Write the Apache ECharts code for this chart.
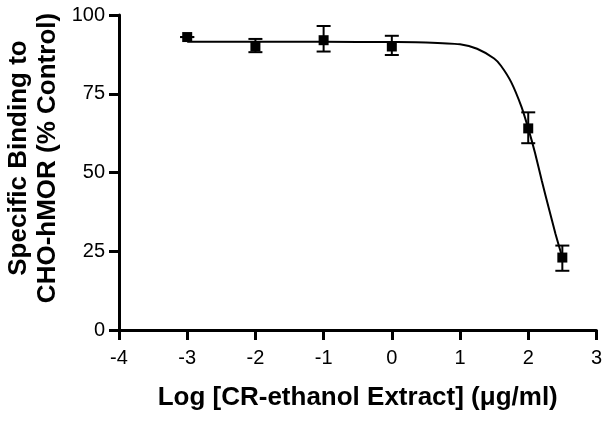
<!DOCTYPE html>
<html>
<head>
<meta charset="utf-8">
<script src="https://cdn.jsdelivr.net/npm/echarts@6/dist/echarts.min.js"></script>
<style>
  html, body { margin: 0; padding: 0; background: #fff; }
  #main { width: 605px; height: 421px; }
</style>
</head>
<body>
<div id="main"></div>
<script>
var logConc = [-3, -2, -1, 0, 2, 2.5];
var binding = [93, 90, 92, 90, 64, 23];
var errLow = [93, 88.2, 88.4, 87.3, 59.3, 18.8];
var errHigh = [93, 92.4, 96.5, 93.4, 69.1, 26.8];

// fitted curve
var curveX = [-3, -2, -1, 0, 0.5, 1, 1.25, 1.5, 1.6, 1.75, 1.9, 2, 2.1, 2.2, 2.3, 2.4, 2.5];
var curveY = [91.5, 91.5, 91.5, 91.4, 91.3, 90.7, 89.3, 86.2, 83.9, 78.7, 70.9, 64, 56.2, 47.3, 38.8, 30.5, 23];

var xTicks = [-4, 3, 1];
var yTicks = [0, 100, 25];

var fontName = '"Liberation Sans", Arial, sans-serif';
var myChart = echarts.init(document.getElementById('main'));

var points = logConc.map(function (x, i) { return [x, binding[i]]; });
var bars = logConc.map(function (x, i) { return [x, errLow[i], errHigh[i]]; });
var curve = curveX.map(function (x, i) { return [x, curveY[i]]; });

var axisCommon = {
  axisLine: { show: true, onZero: false, lineStyle: { color: '#000', width: 3 } },
  axisTick: { show: true, inside: false, length: 10, lineStyle: { color: '#000', width: 3 } },
  splitLine: { show: false },
  axisLabel: { color: '#000', fontSize: 20, fontFamily: fontName }
};

myChart.setOption({
  animation: false,
  backgroundColor: '#fff',
  grid: { left: 119, right: 7, top: 15, bottom: 91 },
  xAxis: Object.assign({}, axisCommon, {
    type: 'value',
    min: xTicks[0], max: xTicks[1], interval: xTicks[2],
    axisLabel: Object.assign({}, axisCommon.axisLabel, { margin: 18 }),
    name: 'Log [CR-ethanol Extract] (\u03bcg/ml)',
    nameLocation: 'middle',
    nameGap: 55,
    nameTextStyle: { color: '#000', fontSize: 26, fontWeight: 'bold', fontFamily: fontName }
  }),
  yAxis: Object.assign({}, axisCommon, {
    type: 'value',
    min: yTicks[0], max: yTicks[1], interval: yTicks[2],
    axisLabel: Object.assign({}, axisCommon.axisLabel, { margin: 14 })
  }),
  graphic: [{
    type: 'text',
    x: 33, y: 158,
    rotation: Math.PI / 2,
    style: {
      text: 'Specific Binding to\nCHO-hMOR (% Control)',
      fill: '#000',
      font: 'bold 26px ' + fontName,
      lineHeight: 29,
      align: 'center',
      verticalAlign: 'middle'
    }
  }],
  series: [{
    type: 'line',
    data: curve,
    showSymbol: false,
    smooth: 0.2,
    lineStyle: { color: '#000', width: 2 },
    z: 2
  }, {
    type: 'custom',
    data: bars,
    renderItem: function (params, api) {
      var lo = api.coord([api.value(0), api.value(1)]);
      var hi = api.coord([api.value(0), api.value(2)]);
      var w = 7;
      var st = { stroke: '#000', lineWidth: 2 };
      return {
        type: 'group',
        children: [
          { type: 'line', shape: { x1: lo[0], y1: lo[1], x2: hi[0], y2: hi[1] }, style: st },
          { type: 'line', shape: { x1: lo[0] - w, y1: lo[1], x2: lo[0] + w, y2: lo[1] }, style: st },
          { type: 'line', shape: { x1: hi[0] - w, y1: hi[1], x2: hi[0] + w, y2: hi[1] }, style: st }
        ]
      };
    },
    z: 3
  }, {
    type: 'scatter',
    data: points,
    symbol: 'rect',
    symbolSize: 10,
    itemStyle: { color: '#000', opacity: 1 },
    z: 4
  }]
});
</script>
</body>
</html>
